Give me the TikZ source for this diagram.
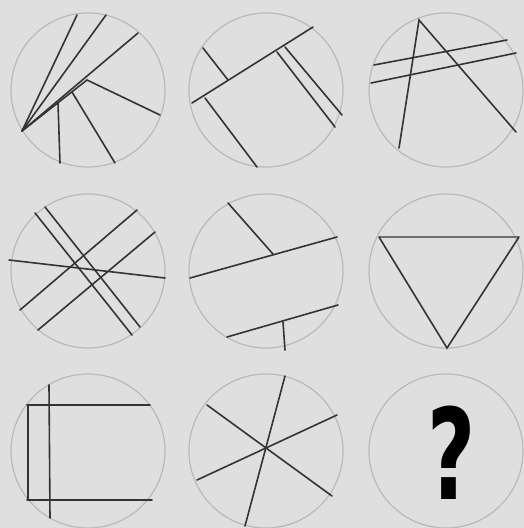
\documentclass[tikz,border=0pt]{standalone}
\usepackage{fontspec}
\newfontfamily\qfont{DejaVu Sans}
\definecolor{PanelGray}{RGB}{223,223,223}
\definecolor{RingGray}{RGB}{185,185,185}
\definecolor{InkGray}{RGB}{52,52,52}
\definecolor{TopGray}{RGB}{110,110,110}

\begin{document}
\begin{tikzpicture}[x=1pt, y=-1pt]
  \tikzset{
    ring/.style={draw=RingGray, line width=1.2pt},
    stroke/.style={InkGray, line width=1.6pt, line cap=round},
    faint/.style={TopGray, line width=1.8pt}
  }
  \fill[PanelGray] (0,0) rectangle (524,528);
  \useasboundingbox (0,0) rectangle (524,528);
  \foreach \cx in {88,266,446}
    \foreach \cy in {90,271,451}
      \draw[ring] (\cx,\cy) circle[radius=77pt];

  % row 1
  \coordinate (fan) at (22,131);
  \draw[stroke] (fan) -- (77,15);
  \draw[stroke] (fan) -- (106,15);
  \draw[stroke] (fan) -- (138,33);
  \draw[stroke] (fan) -- (87,80) -- (160,115);
  \draw[stroke] (72,92) -- (115,163);
  \draw[stroke] (58,103) -- (60,163);

  \draw[stroke] (192,103) -- (313,27);
  \draw[stroke] (203,48) -- (228,80);
  \draw[stroke] (205,98) -- (257,167);
  \draw[stroke] (277,52) -- (335,127);
  \draw[stroke] (285,47) -- (342,115);

  \coordinate (apex) at (419,20);
  \draw[stroke] (399,148) -- (apex) -- (516,132);
  \draw[stroke] (374,65) -- (507,40);
  \draw[stroke] (371,83) -- (516,53);

  % row 2
  \draw[stroke] (45,207) -- (140,327);
  \draw[stroke] (35,213) -- (132,335);
  \draw[stroke] (9,260) -- (165,278);
  \draw[stroke] (20,310) -- (137,210);
  \draw[stroke] (38,330) -- (155,232);

  \draw[stroke] (190,278) -- (337,237);
  \draw[stroke] (228,203) -- (273,254);
  \draw[stroke] (227,337) -- (338,305);
  \draw[stroke] (283,322) -- (285,350);

  \draw[faint] (379,237) -- (519,237);
  \draw[stroke] (379,237) -- (447,348) -- (519,237);

  % row 3
  \draw[stroke] (27,405) -- (150,405);
  \draw[stroke] (27,500) -- (152,500);
  \draw[stroke, line width=2.2pt] (28,405) -- (28,500);
  \draw[stroke] (49,385) -- (50,518);

  \coordinate (hub) at (265,448);
  \draw[stroke] (207,405) -- (332,496);
  \draw[stroke] (197,480) -- (337,415);
  \draw[stroke] (285,376) -- (245,526);

  \node[inner sep=0pt] (qmark) at (452,453)
    {\qfont\bfseries\fontsize{126}{126}\selectfont\scalebox{0.66}[1]{?}};
\end{tikzpicture}
\end{document}
